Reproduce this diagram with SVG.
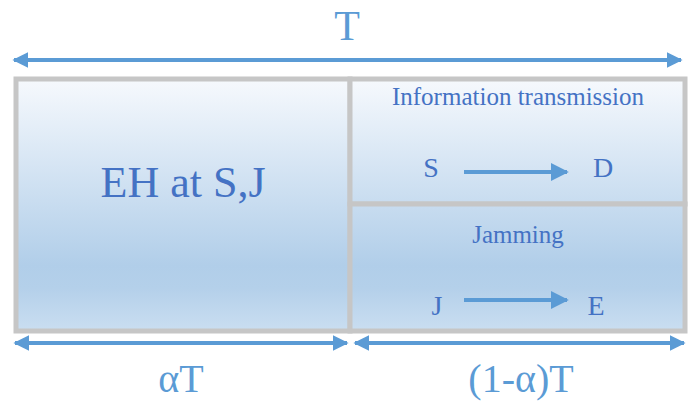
<svg xmlns="http://www.w3.org/2000/svg" width="694" height="405" viewBox="0 0 694 405">
<style>
.box{stroke:#c6c6c6;stroke-width:5;fill:url(#g)}
.lbl{text-anchor:middle;font-family:'Liberation Serif','DejaVu Serif','Noto Serif','Times New Roman',Times,serif}
.dk{fill:#4472c4}
.lt{fill:#5b9bd5}
.arr{stroke:#5b9bd5;stroke-width:4;fill:none}
</style>
<defs>
<linearGradient id="g" gradientUnits="userSpaceOnUse" x1="0" y1="79" x2="0" y2="331">
<stop offset="0" stop-color="#f6f9fd"/>
<stop offset="0.74" stop-color="#b1cee9"/>
<stop offset="0.83" stop-color="#b4d0ea"/>
<stop offset="1" stop-color="#cadef1"/>
</linearGradient>
<marker id="ah" viewBox="0 0 10 10" refX="9" refY="5" markerWidth="4" markerHeight="4" orient="auto-start-reverse" markerUnits="strokeWidth">
<path d="M0,0 L10,5 L0,10 Z" fill="#5b9bd5"/>
</marker>
<marker id="ah2" viewBox="0 0 10 10" refX="9" refY="5" markerWidth="4.5" markerHeight="4.5" orient="auto" markerUnits="strokeWidth">
<path d="M0,0 L10,5 L0,10 Z" fill="#5b9bd5"/>
</marker>
</defs>
<g id="left-box">
<rect class="box" x="16" y="79" width="334" height="252"/>
<text class="lbl dk" x="183" y="197" font-size="44">EH at S,J</text>
</g>
<g id="info-box">
<rect class="box" x="350" y="79" width="335" height="125"/>
<text class="lbl dk" x="518" y="105" font-size="25">Information transmission</text>
<text class="lbl dk" x="431" y="177" font-size="28">S</text>
<text class="lbl dk" x="603" y="177" font-size="28">D</text>
</g>
<g id="jam-box">
<rect class="box" x="350" y="204" width="335" height="127"/>
<text class="lbl dk" x="518" y="243" font-size="25">Jamming</text>
<text class="lbl dk" x="437" y="315" font-size="28">J</text>
<text class="lbl dk" x="596" y="315" font-size="28">E</text>
</g>
<g id="labels">
<text class="lbl lt" x="347" y="40" font-size="42">T</text>
<text class="lbl lt" x="181" y="392" font-size="40">αT</text>
<text class="lbl lt" x="521" y="392" font-size="40">(1-α)T</text>
</g>
<g id="connectors">
<line class="arr" x1="14" y1="60" x2="681" y2="60" marker-start="url(#ah)" marker-end="url(#ah)"/>
<line class="arr" x1="15" y1="343" x2="347" y2="343" marker-start="url(#ah)" marker-end="url(#ah)"/>
<line class="arr" x1="355" y1="343" x2="684" y2="343" marker-start="url(#ah)" marker-end="url(#ah)"/>
<line class="arr" x1="464" y1="172" x2="567" y2="172" stroke-width="3" marker-end="url(#ah2)"/>
<line class="arr" x1="464" y1="300" x2="567" y2="300" stroke-width="3" marker-end="url(#ah2)"/>
</g>
</svg>
